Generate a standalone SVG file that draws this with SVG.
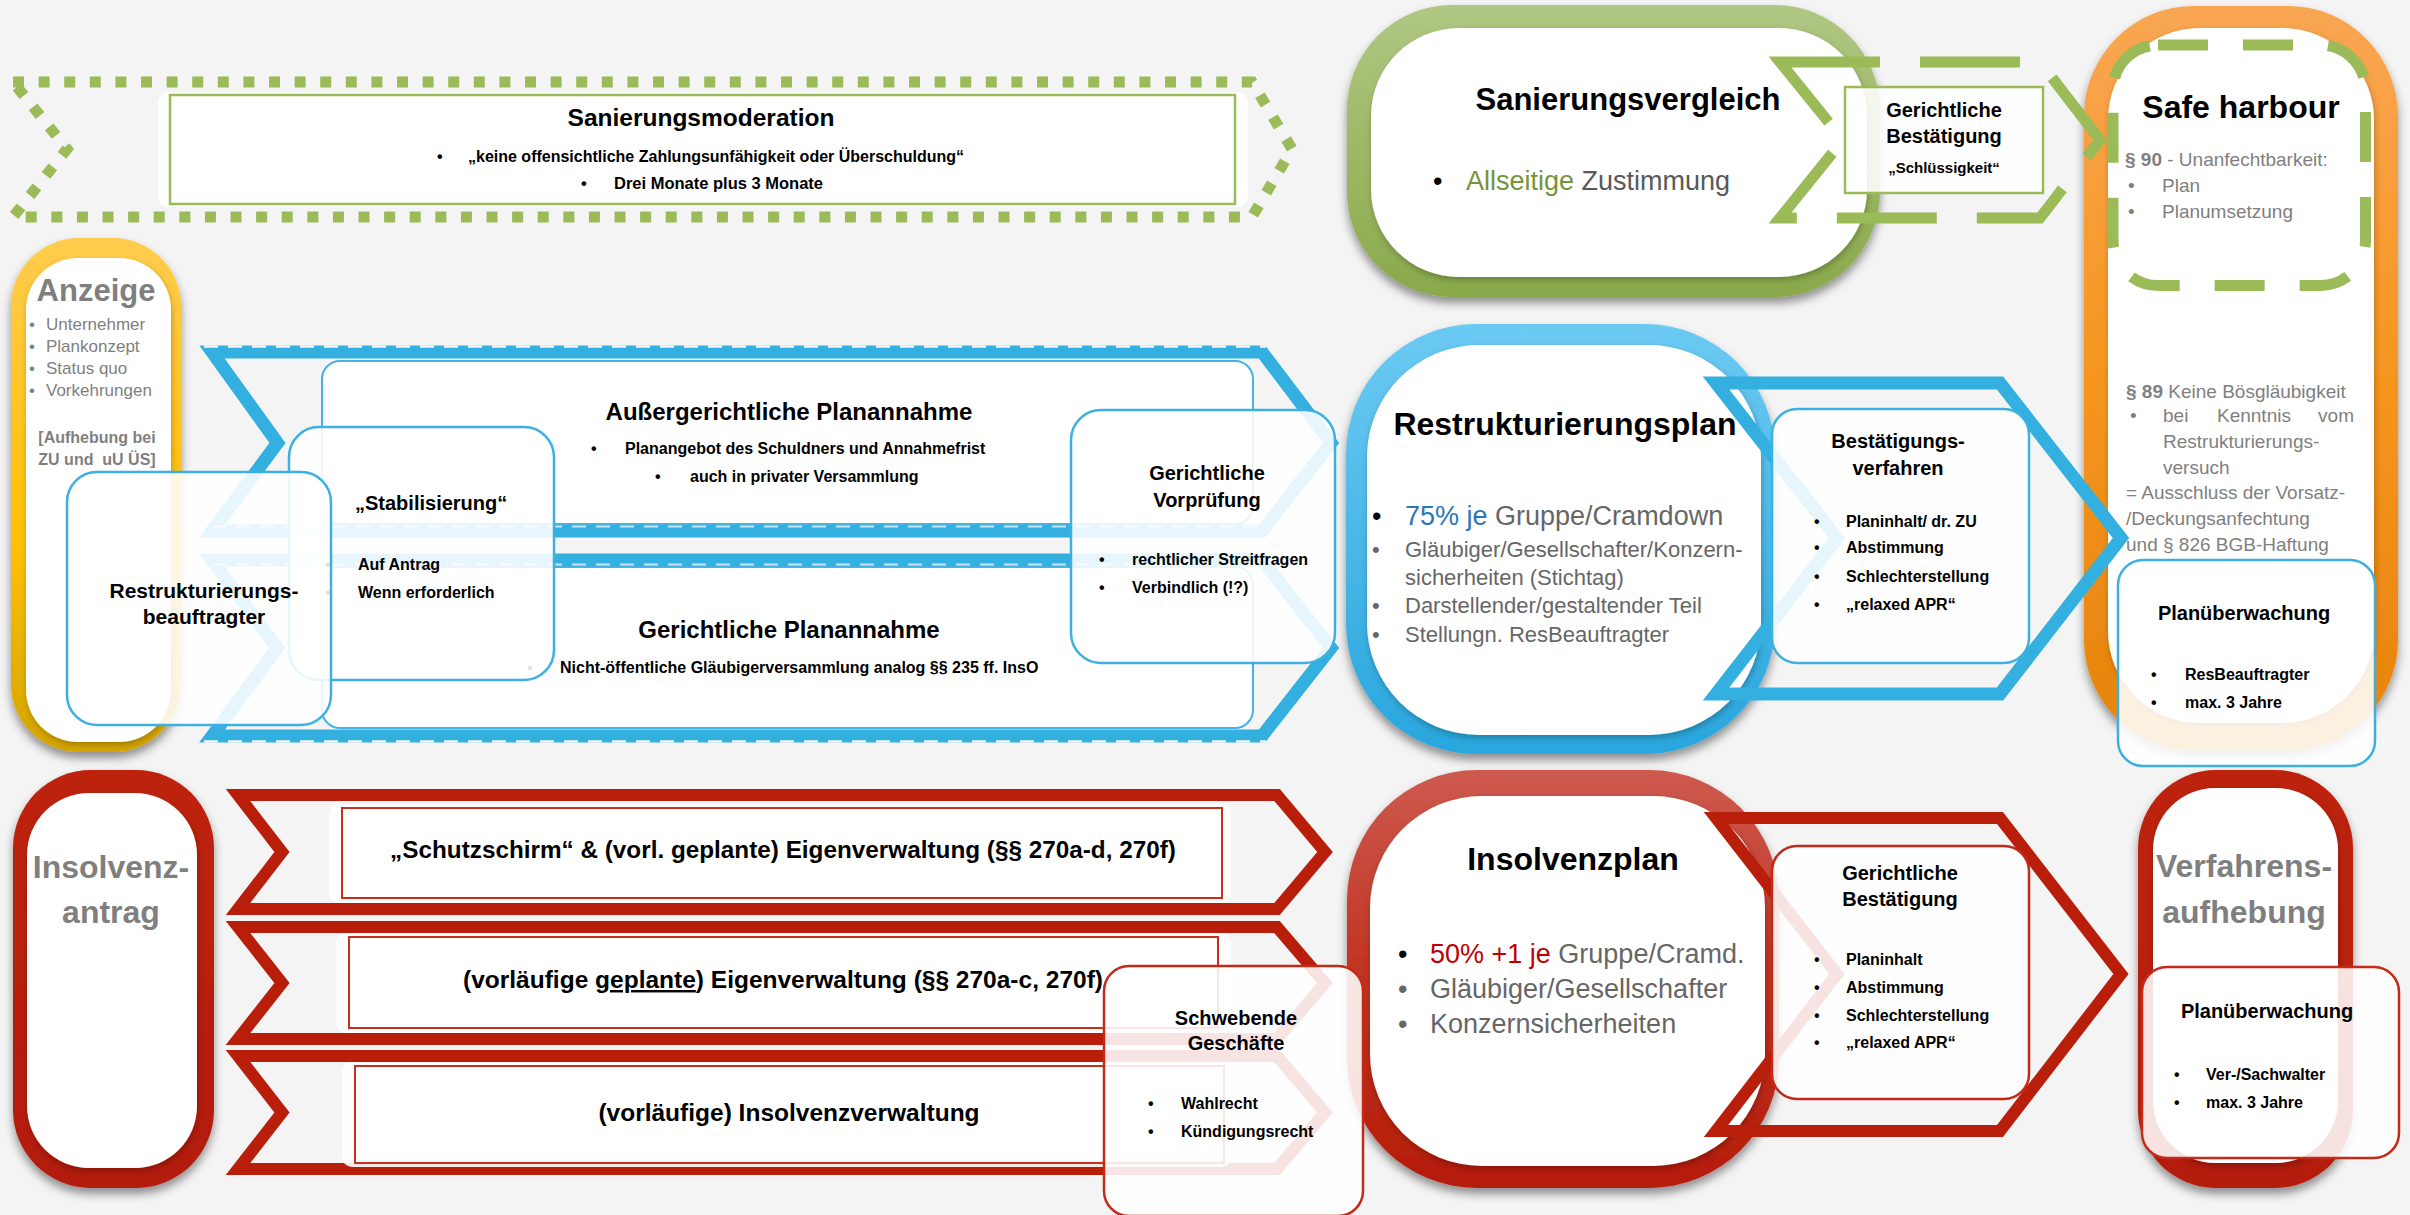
<svg xmlns="http://www.w3.org/2000/svg" width="2410" height="1215" viewBox="0 0 2410 1215">
<defs>
<style>
text{font-family:"Liberation Sans",Arial,sans-serif;fill:#000}
.b{font-weight:700}
.m{text-anchor:middle}
.e{text-anchor:end}
.gr{fill:#7f7f7f}
.dg{fill:#666}
.bb{fill:#fff;fill-opacity:.88;stroke:#3cb0e0;stroke-width:2.5}
.br{fill:#fff;fill-opacity:.88;stroke:#c32a17;stroke-width:2.5}
.inner{fill:#fff;filter:url(#ish)}
.cb{fill:none;stroke:#33b0e0;stroke-width:13;stroke-miterlimit:10}
.cr{fill:none;stroke:#b91e0a;stroke-width:12;stroke-miterlimit:10}
.dash{fill:none;stroke:#f4f4f4;stroke-width:2.5;stroke-dasharray:14 10}
.dashw{fill:none;stroke:#ffffff;stroke-opacity:.7;stroke-width:2;stroke-dasharray:14 10}
.rowsoft{fill:#fff;fill-opacity:.9}
.rowbox{fill:#fff;stroke:#c8301d;stroke-width:2}
</style>
<linearGradient id="gGreen" x1="0" y1="0" x2="0" y2="1"><stop offset="0" stop-color="#b0c783"/><stop offset="1" stop-color="#8aa94a"/></linearGradient>
<linearGradient id="gBlue" x1="0" y1="0" x2="0" y2="1"><stop offset="0" stop-color="#6ccaf3"/><stop offset="1" stop-color="#29a6dd"/></linearGradient>
<linearGradient id="gOrange" x1="0" y1="0" x2="0" y2="1"><stop offset="0" stop-color="#f9a653"/><stop offset=".5" stop-color="#f6961f"/><stop offset="1" stop-color="#e5830c"/></linearGradient>
<linearGradient id="gGold" x1="0" y1="0" x2="0" y2="1"><stop offset="0" stop-color="#ffcc4e"/><stop offset=".6" stop-color="#ffc000"/><stop offset="1" stop-color="#d4a500"/></linearGradient>
<linearGradient id="gRed" x1="0" y1="0" x2="0" y2="1"><stop offset="0" stop-color="#bd2410"/><stop offset="1" stop-color="#b31b08"/></linearGradient>
<linearGradient id="gRedPlan" x1="0" y1="0" x2="0" y2="1"><stop offset="0" stop-color="#cd5a4e"/><stop offset=".5" stop-color="#c1321f"/><stop offset="1" stop-color="#b51c0a"/></linearGradient>
<filter id="sh" x="-10%" y="-10%" width="120%" height="125%"><feDropShadow dx="0" dy="6" stdDeviation="5" flood-color="#000" flood-opacity=".42"/></filter>
<filter id="ish" x="-10%" y="-10%" width="120%" height="120%"><feDropShadow dx="1" dy="3" stdDeviation="3" flood-color="#000" flood-opacity=".25"/></filter>
</defs>

<rect x="0" y="0" width="2410" height="1215" fill="#f4f4f4"/>

<!-- Frame nodes -->
<g id="sanierungsvergleich">
<rect x="1347" y="5" width="533" height="292" rx="105" fill="url(#gGreen)" filter="url(#sh)"/>
<rect class="inner" x="1371" y="28" width="496" height="249" rx="88"/>
<text class="b m" x="1628" y="110" font-size="31">Sanierungsvergleich</text>
<text x="1433" y="190" font-size="27" fill="#77933c">•</text>
<text x="1466" y="190" font-size="27"><tspan fill="#77933c">Allseitige</tspan><tspan fill="#595959"> Zustimmung</tspan></text>
</g>

<g id="safe-harbour">
<rect x="2084" y="6" width="314" height="744" rx="110" fill="url(#gOrange)" filter="url(#sh)"/>
<rect class="inner" x="2108" y="28" width="266" height="695" rx="92"/>
<rect x="2113" y="45" width="252.5" height="240.5" rx="45" fill="none" stroke="#9bbb59" stroke-width="11" stroke-dasharray="50 35"/>
<text class="b m" x="2241" y="118" font-size="32">Safe harbour</text>
<text class="gr" x="2125" y="166" font-size="19"><tspan class="b gr">§ 90</tspan> - Unanfechtbarkeit:</text>
<text class="gr" x="2128" y="192" font-size="19">•</text><text class="gr" x="2162" y="192" font-size="19">Plan</text>
<text class="gr" x="2128" y="218" font-size="19">•</text><text class="gr" x="2162" y="218" font-size="19">Planumsetzung</text>
<text class="gr" x="2126" y="398" font-size="19"><tspan class="b gr">§ 89</tspan> Keine Bösgläubigkeit</text>
<text class="gr" x="2130" y="422" font-size="19">•</text>
<text class="gr" x="2163" y="422" font-size="19">bei</text>
<text class="gr" x="2217" y="422" font-size="19">Kenntnis</text>
<text class="gr e" x="2354" y="422" font-size="19">vom</text>
<text class="gr" x="2163" y="448" font-size="19">Restrukturierungs-</text>
<text class="gr" x="2163" y="474" font-size="19">versuch</text>
<text class="gr" x="2126" y="499" font-size="19">= Ausschluss der Vorsatz-</text>
<text class="gr" x="2126" y="525" font-size="19">/Deckungsanfechtung</text>
<text class="gr" x="2126" y="551" font-size="19">und § 826 BGB-Haftung</text>
</g>

<g id="anzeige">
<rect x="11" y="238" width="170" height="514" rx="68" fill="url(#gGold)" filter="url(#sh)"/>
<rect class="inner" x="26" y="258" width="145" height="484" rx="52"/>
<text class="b m gr" x="96" y="301" font-size="31">Anzeige</text>
<text class="gr" x="29" y="330" font-size="17">•</text><text class="gr" x="46" y="330" font-size="17">Unternehmer</text>
<text class="gr" x="29" y="352" font-size="17">•</text><text class="gr" x="46" y="352" font-size="17">Plankonzept</text>
<text class="gr" x="29" y="374" font-size="17">•</text><text class="gr" x="46" y="374" font-size="17">Status quo</text>
<text class="gr" x="29" y="396" font-size="17">•</text><text class="gr" x="46" y="396" font-size="17">Vorkehrungen</text>
<text class="b m gr" x="97" y="443" font-size="16">[Aufhebung bei</text>
<text class="b m gr" x="97" y="465" font-size="16" xml:space="preserve">ZU und  uU ÜS]</text>
</g>

<g id="restrukturierungsplan">
<rect x="1346" y="324" width="429" height="430" rx="130" fill="url(#gBlue)" filter="url(#sh)"/>
<rect class="inner" x="1367" y="345" width="394" height="390" rx="112"/>
<text class="b m" x="1565" y="435" font-size="32">Restrukturierungsplan</text>
<text x="1372" y="525" font-size="27" fill="#2e75b6">•</text>
<text x="1405" y="525" font-size="27"><tspan fill="#2e75b6">75% je</tspan><tspan fill="#666"> Gruppe/Cramdown</tspan></text>
<text class="dg" x="1372" y="557" font-size="22">•</text><text class="dg" x="1405" y="557" font-size="22">Gläubiger/Gesellschafter/Konzern-</text>
<text class="dg" x="1405" y="585" font-size="22">sicherheiten (Stichtag)</text>
<text class="dg" x="1372" y="613" font-size="22">•</text><text class="dg" x="1405" y="613" font-size="22">Darstellender/gestaltender Teil</text>
<text class="dg" x="1372" y="642" font-size="22">•</text><text class="dg" x="1405" y="642" font-size="22">Stellungn. ResBeauftragter</text>
</g>

<g id="insolvenzantrag">
<rect x="13" y="770" width="201" height="418" rx="78" fill="url(#gRed)" filter="url(#sh)"/>
<rect class="inner" x="27" y="793" width="170" height="375" rx="62"/>
<text class="b m gr" x="111" y="878" font-size="32">Insolvenz-</text>
<text class="b m gr" x="111" y="923" font-size="32">antrag</text>
</g>

<g id="insolvenzplan">
<rect x="1347" y="770" width="432" height="418" rx="130" fill="url(#gRedPlan)" filter="url(#sh)"/>
<rect class="inner" x="1370" y="796" width="395" height="370" rx="112"/>
<text class="b m" x="1573" y="870" font-size="32">Insolvenzplan</text>
<text x="1398" y="963" font-size="27" fill="#c00000">•</text>
<text x="1430" y="963" font-size="27"><tspan fill="#c00000">50% +1 je</tspan><tspan fill="#666"> Gruppe/Cramd.</tspan></text>
<text class="dg" x="1398" y="998" font-size="27">•</text><text class="dg" x="1430" y="998" font-size="27">Gläubiger/Gesellschafter</text>
<text class="dg" x="1398" y="1033" font-size="27">•</text><text class="dg" x="1430" y="1033" font-size="27">Konzernsicherheiten</text>
</g>

<g id="verfahrensaufhebung">
<rect x="2138" y="770" width="215" height="418" rx="78" fill="url(#gRed)" filter="url(#sh)"/>
<rect class="inner" x="2153" y="788" width="185" height="375" rx="62"/>
<text class="b m gr" x="2244" y="877" font-size="32">Verfahrens-</text>
<text class="b m gr" x="2244" y="923" font-size="32">aufhebung</text>
</g>

<!-- Connectors (chevron arrows) -->
<g id="connectors">
<path d="M13,82 H1252 L1292,149 L1252,217 H13 L67,149 Z" fill="none" stroke="#9bbb59" stroke-width="11" stroke-dasharray="11 14.6"/>
<path d="M212,352 H1262 L1331,443 L1262,531 H212 L277.5,443 Z" class="cb"/>
<path d="M212,560 H1262 L1331,648 L1262,736 H212 L277.5,648 Z" class="cb"/>
<line x1="204" y1="346.5" x2="1266" y2="346.5" class="dash"/>
<line x1="212" y1="526.5" x2="1262" y2="526.5" class="dashw"/>
<line x1="212" y1="564.5" x2="1262" y2="564.5" class="dashw"/>
<line x1="204" y1="741.5" x2="1266" y2="741.5" class="dash"/>
<path d="M1716,383 H2000 L2121,538 L2000,694 H1716 L1837,538 Z" class="cb" stroke-width="12"/>
<path d="M1780,62 H2040 L2100,140 L2040,218 H1780 L1843,140 Z" fill="none" stroke="#9bbb59" stroke-width="11" stroke-dasharray="100 40"/>
<path d="M238,795 H1277 L1325,852 L1277,909 H238 L282,852 Z" class="cr"/>
<path d="M238,927 H1277 L1325,983 L1277,1039 H238 L282,983 Z" class="cr"/>
<path d="M238,1056 H1277 L1325,1112.5 L1277,1169 H238 L282,1112.5 Z" class="cr"/>
<path d="M1716,818 H2000 L2121,974 L2000,1131 H1716 L1837,974 Z" class="cr"/>
</g>

<!-- Box nodes -->
<g id="sanierungsmoderation">
<rect x="158" y="92" width="1090" height="115" rx="10" fill="#fff"/>
<rect x="170" y="95" width="1065" height="109" fill="#fff" stroke="#9bbb59" stroke-width="2.5"/>
<text class="b m" x="701" y="126" font-size="24.5">Sanierungsmoderation</text>
<text class="b" x="437" y="162" font-size="16">•</text>
<text class="b" x="468" y="162" font-size="16">„keine offensichtliche Zahlungsunfähigkeit oder Überschuldung“</text>
<text class="b" x="581" y="189" font-size="16.5">•</text>
<text class="b" x="614" y="189" font-size="16.5">Drei Monate plus 3 Monate</text>
</g>

<g id="gerichtliche-bestaetigung-sv">
<rect x="1845" y="87" width="198" height="106" fill="#fff" fill-opacity=".88" stroke="#9bbb59" stroke-width="2.5"/>
<text class="b m" x="1944" y="117" font-size="20">Gerichtliche</text>
<text class="b m" x="1944" y="143" font-size="20">Bestätigung</text>
<text class="b m" x="1944" y="173" font-size="15">„Schlüssigkeit“</text>
</g>

<g id="aussergerichtliche-planannahme">
<rect x="322" y="361" width="931" height="163" rx="18" fill="#fff" stroke="#45b2e2" stroke-width="2"/>
<text class="b m" x="789" y="420" font-size="24">Außergerichtliche Planannahme</text>
<text class="b" x="591" y="454" font-size="16">•</text>
<text class="b" x="625" y="454" font-size="16">Planangebot des Schuldners und Annahmefrist</text>
<text class="b" x="655" y="482" font-size="16">•</text>
<text class="b" x="690" y="482" font-size="16">auch in privater Versammlung</text>
</g>

<g id="gerichtliche-planannahme">
<rect x="322" y="567" width="931" height="161" rx="18" fill="#fff" stroke="#45b2e2" stroke-width="2"/>
<text class="b m" x="789" y="638" font-size="24">Gerichtliche Planannahme</text>
<text x="527" y="673" font-size="16" fill="#dddddd">•</text>
<text class="b" x="560" y="673" font-size="16">Nicht-öffentliche Gläubigerversammlung analog §§ 235 ff. InsO</text>
</g>

<g id="stabilisierung">
<rect class="bb" x="289" y="427" width="265" height="253" rx="30"/>
<text class="b" x="355" y="510" font-size="20">„Stabilisierung“</text>
<text x="325" y="570" font-size="16" fill="#e0e0e0">•</text>
<text class="b" x="358" y="570" font-size="16">Auf Antrag</text>
<text x="325" y="598" font-size="16" fill="#e0e0e0">•</text>
<text class="b" x="358" y="598" font-size="16">Wenn erforderlich</text>
</g>

<g id="gerichtliche-vorpruefung">
<rect class="bb" x="1071" y="410" width="264" height="253" rx="30"/>
<text class="b m" x="1207" y="480" font-size="20">Gerichtliche</text>
<text class="b m" x="1207" y="507" font-size="20">Vorprüfung</text>
<text class="b" x="1099" y="565" font-size="16">•</text>
<text class="b" x="1132" y="565" font-size="16">rechtlicher Streitfragen</text>
<text class="b" x="1099" y="593" font-size="16">•</text>
<text class="b" x="1132" y="593" font-size="16">Verbindlich (!?)</text>
</g>

<g id="restrukturierungsbeauftragter">
<rect class="bb" x="67" y="472" width="264" height="253" rx="30"/>
<text class="b m" x="204" y="598" font-size="21">Restrukturierungs-</text>
<text class="b m" x="204" y="624" font-size="21">beauftragter</text>
</g>

<g id="bestaetigungsverfahren">
<rect class="bb" x="1772" y="409" width="257" height="254" rx="25"/>
<text class="b m" x="1898" y="448" font-size="20">Bestätigungs-</text>
<text class="b m" x="1898" y="475" font-size="20">verfahren</text>
<text class="b" x="1814" y="527" font-size="16">•</text><text class="b" x="1846" y="527" font-size="16">Planinhalt/ dr. ZU</text>
<text class="b" x="1814" y="553" font-size="16">•</text><text class="b" x="1846" y="553" font-size="16">Abstimmung</text>
<text class="b" x="1814" y="582" font-size="16">•</text><text class="b" x="1846" y="582" font-size="16">Schlechterstellung</text>
<text class="b" x="1814" y="610" font-size="16">•</text><text class="b" x="1846" y="610" font-size="16">„relaxed APR“</text>
</g>

<g id="planueberwachung-sh">
<rect class="bb" x="2118" y="560" width="257" height="206" rx="25"/>
<text class="b m" x="2244" y="620" font-size="20">Planüberwachung</text>
<text class="b" x="2151" y="680" font-size="16">•</text><text class="b" x="2185" y="680" font-size="16">ResBeauftragter</text>
<text class="b" x="2151" y="708" font-size="16">•</text><text class="b" x="2185" y="708" font-size="16">max. 3 Jahre</text>
</g>

<g id="schutzschirm">
<rect class="rowsoft" x="329" y="804" width="902" height="99" rx="10"/>
<rect class="rowbox" x="342" y="808" width="880" height="90"/>
<text class="b m" x="783" y="858" font-size="24.3">„Schutzschirm“ &amp; (vorl. geplante) Eigenverwaltung (§§ 270a-d, 270f)</text>
</g>

<g id="eigenverwaltung">
<rect class="rowsoft" x="336" y="933" width="895" height="100" rx="10"/>
<rect class="rowbox" x="349" y="937" width="869" height="91"/>
<text class="b m" x="783" y="988" font-size="24.5">(vorläufige <tspan text-decoration="underline">geplante</tspan>) Eigenverwaltung (§§ 270a-c, 270f)</text>
</g>

<g id="insolvenzverwaltung">
<rect class="rowsoft" x="342" y="1062" width="890" height="105" rx="10"/>
<rect class="rowbox" x="355" y="1066" width="869" height="97"/>
<text class="b m" x="789" y="1121" font-size="24.5">(vorläufige) Insolvenzverwaltung</text>
</g>

<g id="schwebende-geschaefte">
<rect class="br" x="1104" y="966" width="259" height="250" rx="25"/>
<text class="b m" x="1236" y="1025" font-size="20">Schwebende</text>
<text class="b m" x="1236" y="1050" font-size="20">Geschäfte</text>
<text class="b" x="1148" y="1109" font-size="16">•</text><text class="b" x="1181" y="1109" font-size="16">Wahlrecht</text>
<text class="b" x="1148" y="1137" font-size="16">•</text><text class="b" x="1181" y="1137" font-size="16">Kündigungsrecht</text>
</g>

<g id="gerichtliche-bestaetigung-ip">
<rect class="br" x="1772" y="846" width="257" height="253" rx="25"/>
<text class="b m" x="1900" y="880" font-size="20">Gerichtliche</text>
<text class="b m" x="1900" y="906" font-size="20">Bestätigung</text>
<text class="b" x="1814" y="965" font-size="16">•</text><text class="b" x="1846" y="965" font-size="16">Planinhalt</text>
<text class="b" x="1814" y="993" font-size="16">•</text><text class="b" x="1846" y="993" font-size="16">Abstimmung</text>
<text class="b" x="1814" y="1021" font-size="16">•</text><text class="b" x="1846" y="1021" font-size="16">Schlechterstellung</text>
<text class="b" x="1814" y="1048" font-size="16">•</text><text class="b" x="1846" y="1048" font-size="16">„relaxed APR“</text>
</g>

<g id="planueberwachung-ip">
<rect class="br" x="2142" y="967" width="257" height="191" rx="25"/>
<text class="b m" x="2267" y="1018" font-size="20">Planüberwachung</text>
<text class="b" x="2174" y="1080" font-size="16">•</text><text class="b" x="2206" y="1080" font-size="16">Ver-/Sachwalter</text>
<text class="b" x="2174" y="1108" font-size="16">•</text><text class="b" x="2206" y="1108" font-size="16">max. 3 Jahre</text>
</g>
</svg>
